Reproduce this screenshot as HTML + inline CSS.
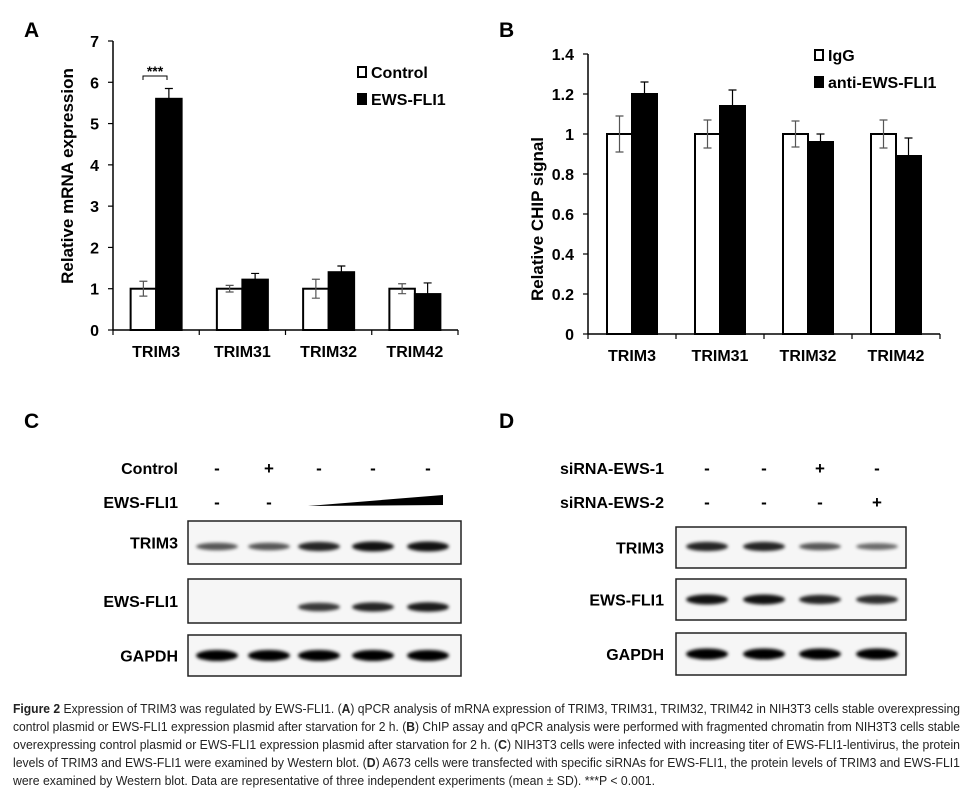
<!DOCTYPE html>
<html><head><meta charset="utf-8"><style>
html,body{margin:0;padding:0;background:#fff}
svg{display:block;font-family:"Liberation Sans",Arial,sans-serif}
.b{font-weight:bold}
</style></head><body>
<svg id="fig" width="975" height="789" viewBox="0 0 975 789">
<defs><filter id="blur" x="-20%" y="-100%" width="140%" height="300%"><feGaussianBlur stdDeviation="1.6"/></filter></defs>
<g id="chartA"></g>
<g id="chartB"></g>
<g id="blotC"></g>
<g id="blotD"></g>
<g font-size="12.5" fill="#222">
<text x="13" y="713" textLength="947" lengthAdjust="spacingAndGlyphs"><tspan font-weight="bold">Figure 2</tspan> Expression of TRIM3 was regulated by EWS-FLI1. (<tspan font-weight="bold">A</tspan>) qPCR analysis of mRNA expression of TRIM3, TRIM31, TRIM32, TRIM42 in NIH3T3 cells stable overexpressing</text>
<text x="13" y="731" textLength="947" lengthAdjust="spacingAndGlyphs">control plasmid or EWS-FLI1 expression plasmid after starvation for 2 h. (<tspan font-weight="bold">B</tspan>) ChIP assay and qPCR analysis were performed with fragmented chromatin from NIH3T3 cells stable</text>
<text x="13" y="749" textLength="947" lengthAdjust="spacingAndGlyphs">overexpressing control plasmid or EWS-FLI1 expression plasmid after starvation for 2 h. (<tspan font-weight="bold">C</tspan>) NIH3T3 cells were infected with increasing titer of EWS-FLI1-lentivirus, the protein</text>
<text x="13" y="767" textLength="947" lengthAdjust="spacingAndGlyphs">levels of TRIM3 and EWS-FLI1 were examined by Western blot. (<tspan font-weight="bold">D</tspan>) A673 cells were transfected with specific siRNAs for EWS-FLI1, the protein levels of TRIM3 and EWS-FLI1</text>
<text x="13" y="785" textLength="642" lengthAdjust="spacingAndGlyphs">were examined by Western blot. Data are representative of three independent experiments (mean ± SD). ***P &lt; 0.001.</text>
</g>
</svg>
<script>
const NS="http://www.w3.org/2000/svg";
// Panel A data
const catsA=["TRIM3","TRIM31","TRIM32","TRIM42"];
const ctrlA=[1,1,1,1];
const ctrlErrA=[0.18,0.08,0.23,0.12];
const ewsA=[5.6,1.22,1.4,0.87];
const ewsErrA=[0.25,0.15,0.15,0.27];
const ticksA=[0,1,2,3,4,5,6,7];
// Panel B data
const catsB=["TRIM3","TRIM31","TRIM32","TRIM42"];
const iggB=[1,1,1,1];
const iggErrB=[0.09,0.07,0.065,0.07];
const antiB=[1.2,1.14,0.96,0.89];
const antiErrB=[0.06,0.08,0.04,0.09];
const ticksB=[0,0.2,0.4,0.6,0.8,1,1.2,1.4];
const tickLabelsB=["0","0.2","0.4","0.6","0.8","1","1.2","1.4"];
// Blot band intensities (0..1) per lane
const cTrim3=[0.5,0.5,0.75,0.85,0.85];
const cEws=[0,0,0.65,0.75,0.8];
const cGapdh=[1,1,1,1,1];
const dTrim3=[0.75,0.75,0.5,0.4];
const dEws=[0.85,0.85,0.75,0.7];
const dGapdh=[1,1,1,1];

function mk(tag,attrs,parent,text){const e=document.createElementNS(NS,tag);for(const k in attrs)e.setAttribute(k,attrs[k]);if(text!==undefined)e.textContent=text;parent.appendChild(e);return e;}

function barChart(g,o){
  const y=v=>o.y0-(v-o.min)/(o.max-o.min)*(o.y0-o.y1);
  const cw=(o.x1-o.x0)/o.cats.length;
  const ya=mk("line",{x1:o.x0,y1:o.y1,x2:o.x0,y2:o.y0,stroke:"#000","stroke-width":1.5},g);
  
  
  o.ticks.forEach((t,i)=>{
    mk("line",{x1:o.x0-5,y1:y(t),x2:o.x0,y2:y(t),stroke:"#000","stroke-width":1.2},g);
    const tl=mk("text",{x:o.x0-14,y:y(t)+6,"text-anchor":"end","font-size":16,"font-weight":"bold"},g,o.tickLabels?o.tickLabels[i]:String(t));
    
    
  });
  o.cats.forEach((c,i)=>{
    const cx=o.x0+cw*(i+0.5);
    const xa=o.x0+cw*(i+1);
    mk("line",{x1:xa,y1:o.y0,x2:xa,y2:o.y0+5,stroke:"#000","stroke-width":1.2},g);
    if(i===0)mk("line",{x1:o.x0,y1:o.y0,x2:o.x0,y2:o.y0+5,stroke:"#000","stroke-width":1.2},g);
    const bars=[[o.s1[i],o.e1[i],"#fff","control"],[o.s2[i],o.e2[i],"#000","treatment"]];
    bars.forEach((b,j)=>{
      const bx=cx-o.bw+j*o.bw;
      const r=mk("rect",{x:bx,y:y(b[0]),width:o.bw,height:o.y0-y(b[0]),fill:b[2],stroke:"#000","stroke-width":2},g);
      
      
      const ex=bx+o.bw/2;
      const eb=mk("path",{d:`M${ex},${y(b[0]-b[1])}V${y(b[0]+b[1])}M${ex-4},${y(b[0]+b[1])}H${ex+4}M${ex-4},${y(b[0]-b[1])}H${ex+4}`,stroke:j?"#000":"#555","stroke-width":1.2,fill:"none"},g);
      
      
    });
    const lbl=mk("text",{x:cx,y:o.y0+27,"text-anchor":"middle","font-size":16,"font-weight":"bold"},g,c);
    
    
  });
  const xa=mk("line",{x1:o.x0,y1:o.y0,x2:o.x1,y2:o.y0,stroke:"#000","stroke-width":1.5},g);
  
  
  const yt=mk("text",{x:0,y:0,transform:`translate(${o.ytx},${o.yty}) rotate(-90)`,"text-anchor":"middle","font-size":17,"font-weight":"bold"},g,o.ytitle);
  
  
  o.legend.forEach((L,i)=>{
    const lg=mk("g",{},g);
    
    
    mk("rect",{x:L[0],y:L[1]-5,width:8,height:10,fill:i?"#000":"#fff",stroke:"#000","stroke-width":2},lg);
    mk("text",{x:L[0]+13,y:L[1]+6,"font-size":16,"font-weight":"bold"},lg,L[2]);
  });
  return y;
}
const gA=document.getElementById("chartA");
const yA=barChart(gA,{x0:113,x1:458,y0:330,y1:41,min:0,max:7,bw:25.5,cats:catsA,s1:ctrlA,e1:ctrlErrA,s2:ewsA,e2:ewsErrA,ticks:ticksA,ytitle:"Relative mRNA expression",ytx:73,yty:176,legend:[[358,72,"Control"],[358,99,"EWS-FLI1"]]});
const sig=mk("g",{},gA);


mk("path",{d:"M143,80V76H167V80",stroke:"#000","stroke-width":1,fill:"none"},sig);
mk("text",{x:155,y:76,"text-anchor":"middle","font-size":14,"font-weight":"bold"},sig,"***");
const la=mk("text",{x:24,y:37,"font-size":21,"font-weight":"bold"},gA,"A");



const gB=document.getElementById("chartB");
barChart(gB,{x0:588,x1:940,y0:334,y1:54,min:0,max:1.4,bw:25,cats:catsB,s1:iggB,e1:iggErrB,s2:antiB,e2:antiErrB,ticks:ticksB,tickLabels:tickLabelsB,ytitle:"Relative CHIP signal",ytx:543,yty:219,legend:[[815,55,"IgG"],[815,82,"anti-EWS-FLI1"]]});
const lb=mk("text",{x:499,y:37,"font-size":21,"font-weight":"bold"},gB,"B");



function blot(g,o){
  o.rows.forEach(r=>{
    const t=mk("text",{x:o.labelX,y:r.y+6,"text-anchor":"end","font-size":16,"font-weight":"bold"},g,r.label);
    
    
    if(r.marks)r.marks.forEach((m,i)=>{
      const s=mk("text",{x:o.lanes[i],y:r.y+6,"text-anchor":"middle","font-size":17,"font-weight":"bold"},g,m);
      
      
    });
  });
  o.boxes.forEach(b=>{
    const bg=mk("g",{},g);
    
    
    mk("rect",{x:o.bx0,y:b.y0,width:o.bx1-o.bx0,height:b.y1-b.y0,fill:"#f6f6f6",stroke:"#222","stroke-width":1.5},bg);
    const cy=(b.y0+b.y1)/2+(b.dy||0);
    b.vals.forEach((v,i)=>{
      if(v<=0)return;
      const band=mk("ellipse",{cx:o.lanes[i],cy:cy,rx:o.bandW,ry:2+v*3.5,fill:"#000","fill-opacity":Math.min(1,0.25+v*0.8),filter:"url(#blur)"},bg);
      
      
    });
    mk("text",{x:o.labelX,y:(b.y0+b.y1)/2+6,"text-anchor":"end","font-size":16,"font-weight":"bold"},bg,b.label);
  });
}
const gC=document.getElementById("blotC");
blot(gC,{labelX:178,lanes:[217,269,319,373,428],bx0:188,bx1:461,bandW:21,
  rows:[{label:"Control",y:468,marks:["-","+","-","-","-"]},{label:"EWS-FLI1",y:502,marks:["-","-"]}],
  boxes:[{label:"TRIM3",y0:521,y1:564,vals:cTrim3,dy:4},{label:"EWS-FLI1",y0:579,y1:623,vals:cEws,dy:6},{label:"GAPDH",y0:635,y1:676,vals:cGapdh}]});
const tri=mk("polygon",{points:"308,506 443,495 443,505",fill:"#000"},gC);


const lc=mk("text",{x:24,y:428,"font-size":21,"font-weight":"bold"},gC,"C");



const gD=document.getElementById("blotD");
blot(gD,{labelX:664,lanes:[707,764,820,877],bx0:676,bx1:906,bandW:21,
  rows:[{label:"siRNA-EWS-1",y:468,marks:["-","-","+","-"]},{label:"siRNA-EWS-2",y:502,marks:["-","-","-","+"]}],
  boxes:[{label:"TRIM3",y0:527,y1:568,vals:dTrim3,dy:-1},{label:"EWS-FLI1",y0:579,y1:620,vals:dEws},{label:"GAPDH",y0:633,y1:675,vals:dGapdh}]});
const ld=mk("text",{x:499,y:428,"font-size":21,"font-weight":"bold"},gD,"D");


</script>
</body></html>
